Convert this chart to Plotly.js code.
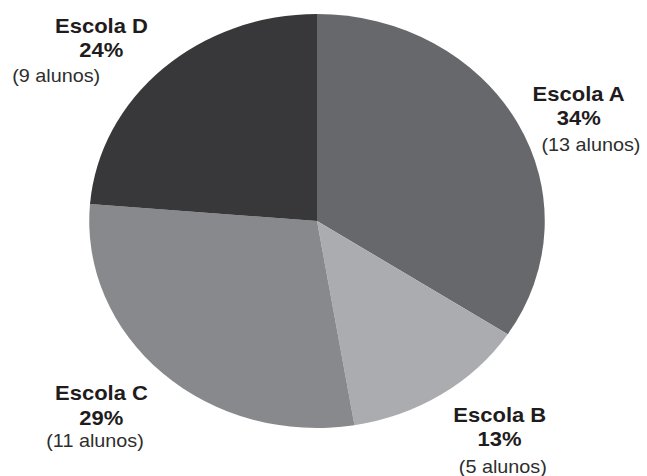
<!DOCTYPE html>
<html>
<head>
<meta charset="utf-8">
<script src="https://cdn.plot.ly/plotly-3.0.1.min.js"></script>
<style>
html,body{margin:0;padding:0;background:#fff;overflow:hidden;}
#chart{width:588px;height:476px;transform:scaleX(1.1003);transform-origin:0 0;}
</style>
</head>
<body>
<div id="chart"></div>
<script>
// ---- data ----
const categories = ['Escola A', 'Escola B', 'Escola C', 'Escola D'];
const alunos = [13, 5, 11, 9];
const unitLabel = 'alunos';

// ---- styling / layout ----
const sliceColors = ['#67686c', '#abacb0', '#88898d', '#38383a'];
const W = 588, H = 476, SX = 1.1003;
// label centres in reference pixels: [nameX, nameY, pctX, pctY, countX, countY]
const labelPos = [
  [579, 94, 579, 118, 591, 145],
  [500, 415, 500, 439, 503, 467],
  [101, 393, 101, 418, 95, 441],
  [101, 26, 101, 50, 56, 76]
];

const total = alunos.reduce((a, b) => a + b, 0);
const px = x => (x / SX) / W;
const py = y => 1 - y / H;

const annotations = [];
categories.forEach((cat, i) => {
  const p = labelPos[i];
  const pct = Math.round(alunos[i] / total * 100) + '%';
  const common = {xref: 'paper', yref: 'paper', showarrow: false, xanchor: 'center', yanchor: 'middle'};
  annotations.push(Object.assign({}, common, {x: px(p[0]), y: py(p[1]), text: '<b>' + cat + '</b>',
    font: {family: 'Liberation Sans, Arial, sans-serif', size: 20, color: '#1f1c1d'}}));
  annotations.push(Object.assign({}, common, {x: px(p[2]), y: py(p[3]), text: '<b>' + pct + '</b>',
    font: {family: 'Liberation Sans, Arial, sans-serif', size: 20, color: '#1f1c1d'}}));
  annotations.push(Object.assign({}, common, {x: px(p[4]), y: py(p[5]), text: '(' + alunos[i] + ' ' + unitLabel + ')',
    font: {family: 'Liberation Sans, Arial, sans-serif', size: 18, color: '#2e2e2e'}}));
});

const cx = 317 / SX, cy = 221, r = 207;
const trace = {
  type: 'pie',
  labels: categories,
  values: alunos,
  sort: false,
  direction: 'clockwise',
  rotation: 0,
  textinfo: 'none',
  hoverinfo: 'none',
  marker: {colors: sliceColors, line: {width: 0}},
  domain: {x: [(cx - r) / W, (cx + r) / W], y: [1 - (cy + r) / H, 1 - (cy - r) / H]}
};

Plotly.newPlot('chart', [trace], {
  width: W, height: H,
  margin: {l: 0, r: 0, t: 0, b: 0},
  paper_bgcolor: '#ffffff',
  showlegend: false,
  annotations: annotations
}, {displayModeBar: false, staticPlot: true});
</script>
</body>
</html>
